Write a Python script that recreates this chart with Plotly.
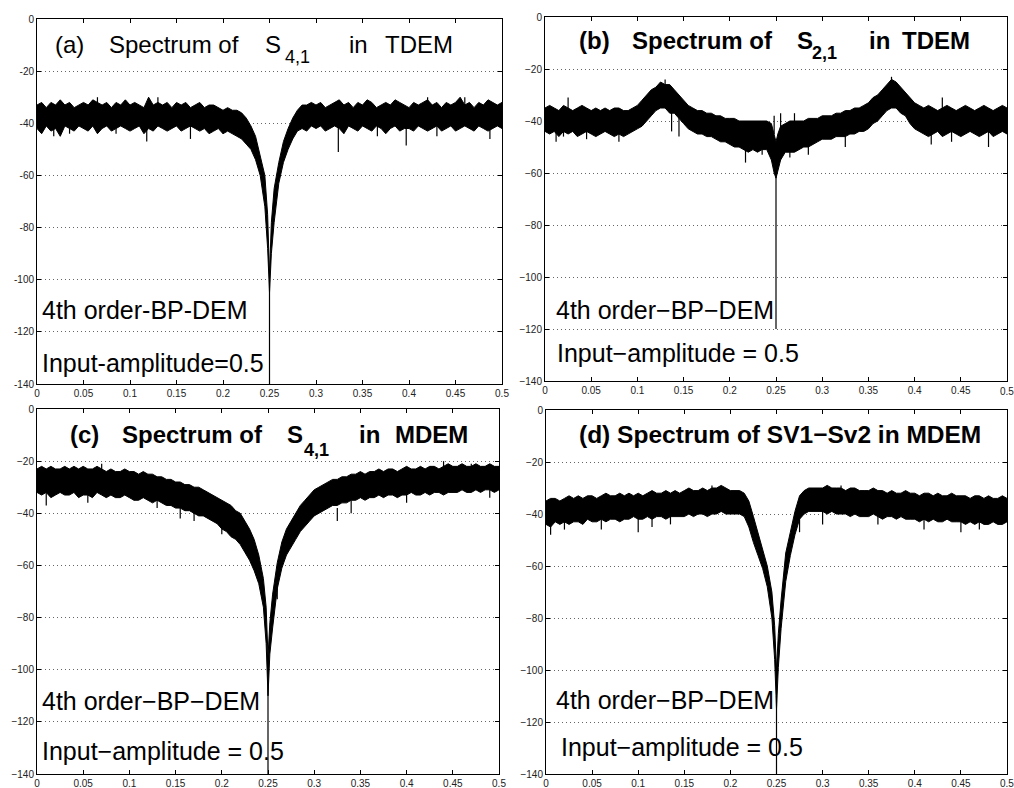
import plotly.graph_objects as go

# frequency grid shared by all four spectra (normalised frequency)
freq = [0.000, 0.005, 0.010, 0.015, 0.020, 0.025, 0.030, 0.035, 0.040, 0.045,
        0.050, 0.055, 0.060, 0.065, 0.070, 0.075, 0.080, 0.085, 0.090, 0.095,
        0.100, 0.105, 0.110, 0.115, 0.120, 0.125, 0.130, 0.135, 0.140, 0.145,
        0.150, 0.155, 0.160, 0.165, 0.170, 0.175, 0.180, 0.185, 0.190, 0.195,
        0.200,
        0.205, 0.210, 0.215, 0.220, 0.225, 0.230, 0.235, 0.240, 0.245, 0.248,
        0.250, 0.252, 0.255, 0.260, 0.265, 0.270, 0.275, 0.280, 0.285, 0.290,
        0.295,
        0.300, 0.305, 0.310, 0.315, 0.320, 0.325, 0.330, 0.335, 0.340, 0.345,
        0.350, 0.355, 0.360, 0.365, 0.370, 0.375, 0.380, 0.385, 0.390, 0.395,
        0.400, 0.405, 0.410, 0.415, 0.420, 0.425, 0.430, 0.435, 0.440, 0.445,
        0.450, 0.455, 0.460, 0.465, 0.470, 0.475, 0.480, 0.485, 0.490, 0.495,
        0.500]

# (a) S4,1 in TDEM : upper / lower edge of the noise band (dB)
up_a = [-33, -32, -34, -32, -33, -31, -33, -32, -34, -33,
        -32, -33, -31, -32, -33, -32, -34, -32, -33, -31,
        -33, -32, -33, -34, -30, -33, -32, -33, -32, -34,
        -32, -33, -32, -34, -33, -32, -34, -33, -33, -34,
        -35,
        -34, -35, -35, -36, -38, -41, -45, -52, -60, -75,
        -98, -78, -65, -55, -47, -42, -38, -35, -33, -33,
        -32,
        -33, -32, -34, -33, -32, -31, -33, -32, -34, -32,
        -33, -31, -32, -34, -33, -32, -33, -31, -32, -33,
        -34, -32, -33, -32, -31, -33, -32, -34, -32, -33,
        -32, -30, -33, -32, -34, -32, -33, -31, -32, -33,
        -32]
lo_a = [-42, -44, -41, -43, -42, -45, -41, -42, -43, -41,
        -42, -43, -41, -44, -42, -41, -43, -42, -41, -42,
        -43, -42, -41, -44, -42, -43, -41, -42, -43, -42,
        -41, -43, -42, -41, -42, -43, -42, -44, -43, -42,
        -44,
        -43, -44, -45, -46, -48, -50, -54, -60, -72, -88,
        -105, -90, -78, -63, -55, -50, -46, -43, -42, -43,
        -41,
        -42, -41, -43, -42, -41, -42, -44, -41, -42, -43,
        -41, -42, -43, -41, -42, -44, -42, -41, -43, -42,
        -42, -43, -41, -42, -43, -42, -41, -43, -42, -41,
        -43, -42, -41, -42, -43, -41, -42, -43, -42, -41,
        -42]

# (b) S2,1 in TDEM
up_b = [-35, -34, -35, -36, -34, -35, -36, -35, -34, -35,
        -36, -35, -36, -35, -36, -35, -35, -36, -36, -35,
        -34, -32, -30, -28, -27, -25, -26, -26, -28, -30,
        -32, -34, -35, -36, -36, -37, -37, -38, -38, -39,
        -39,
        -39, -40, -40, -40, -40, -40, -40, -40, -41, -45,
        -48, -45, -42, -41, -40, -40, -40, -40, -39, -39,
        -39,
        -38, -38, -38, -37, -37, -36, -36, -35, -35, -34,
        -33, -31, -30, -28, -26, -24, -25, -27, -29, -31,
        -33, -34, -35, -34, -35, -36, -35, -34, -35, -36,
        -35, -34, -35, -36, -35, -34, -35, -36, -35, -34,
        -35]
lo_b = [-44, -45, -44, -46, -44, -45, -44, -46, -45, -44,
        -45, -46, -45, -44, -45, -46, -45, -46, -45, -44,
        -43, -42, -40, -38, -36, -35, -35, -37, -37, -39,
        -41, -43, -44, -45, -45, -46, -46, -47, -48, -48,
        -49,
        -50, -50, -51, -52, -51, -52, -51, -51, -55, -60,
        -62, -60, -55, -52, -52, -52, -51, -50, -50, -49,
        -48,
        -47, -47, -47, -46, -46, -46, -45, -45, -44, -44,
        -43, -41, -40, -38, -36, -35, -35, -37, -38, -41,
        -43, -44, -45, -46, -45, -44, -46, -45, -44, -45,
        -46, -45, -44, -45, -46, -45, -44, -46, -45, -44,
        -45]

# (c) S4,1 in MDEM
up_c = [-23, -22, -23, -22, -23, -23, -22, -23, -22, -23,
        -22, -23, -23, -22, -23, -24, -23, -24, -24, -23,
        -24, -24, -25, -24, -25, -25, -26, -26, -27, -27,
        -28, -28, -29, -29, -30, -30, -31, -32, -33, -34,
        -35,
        -36, -37, -39, -40, -43, -46, -50, -56, -65, -76,
        -95, -82, -71, -59, -51, -46, -43, -40, -37, -35,
        -33,
        -31, -30, -29, -28, -27, -27, -26, -26, -25, -25,
        -24, -25, -24, -24, -23, -24, -23, -23, -24, -23,
        -22, -23, -23, -22, -23, -22, -22, -23, -22, -21,
        -22, -22, -21, -22, -22, -21, -22, -22, -21, -22,
        -22]
lo_c = [-32, -33, -32, -34, -33, -32, -33, -33, -32, -34,
        -33, -33, -34, -32, -33, -34, -33, -34, -34, -33,
        -34, -35, -35, -34, -35, -36, -35, -36, -37, -37,
        -38, -38, -39, -39, -40, -41, -41, -42, -43, -44,
        -46,
        -47, -49, -50, -52, -55, -58, -62, -67, -76, -90,
        -110, -94, -84, -69, -61, -56, -53, -50, -47, -45,
        -43,
        -41, -40, -39, -38, -37, -37, -36, -36, -35, -35,
        -34, -35, -34, -34, -33, -34, -33, -33, -34, -33,
        -33, -32, -33, -33, -32, -33, -32, -32, -33, -32,
        -32, -32, -31, -32, -32, -31, -32, -31, -31, -32,
        -31]

# (d) SV1-Sv2 in MDEM
up_d = [-35, -34, -34, -35, -34, -33, -34, -33, -34, -33,
        -33, -34, -33, -32, -33, -33, -32, -33, -32, -33,
        -32, -33, -32, -31, -32, -32, -31, -32, -31, -32,
        -31, -30, -31, -31, -30, -31, -30, -30, -29, -30,
        -31,
        -31, -31, -32, -35, -41, -47, -53, -60, -70, -83,
        -100, -86, -73, -55, -47, -39, -33, -31, -30, -30,
        -30,
        -30, -29, -30, -30, -30, -31, -30, -30, -31, -31,
        -31, -30, -31, -31, -32, -31, -32, -32, -31, -32,
        -32, -33, -32, -32, -33, -32, -33, -33, -32, -33,
        -33, -33, -34, -33, -33, -34, -33, -34, -34, -33,
        -34]
lo_d = [-44, -45, -43, -44, -43, -44, -43, -43, -44, -42,
        -43, -43, -42, -43, -42, -42, -43, -42, -42, -41,
        -42, -42, -41, -42, -41, -41, -42, -41, -41, -41,
        -41, -40, -41, -40, -40, -41, -40, -40, -39, -40,
        -40,
        -40, -40, -41, -45, -51, -56, -61, -68, -80, -96,
        -115, -99, -84, -66, -56, -48, -42, -40, -39, -39,
        -39,
        -39, -40, -39, -40, -40, -40, -41, -40, -41, -41,
        -41, -40, -41, -42, -41, -41, -42, -41, -42, -42,
        -42, -43, -42, -43, -42, -43, -43, -42, -43, -43,
        -43, -44, -43, -44, -43, -44, -44, -43, -44, -44,
        -43]

# isolated spikes (frequency, top dB, bottom dB); the last one is the notch
spk_f_a = [0.018, 0.035, 0.065, 0.085, 0.118, 0.13, 0.165, 0.2, 0.324, 0.366, 0.397, 0.42, 0.43, 0.46, 0.487, 0.25]
spk_hi_a = [-40, -40, -30, -40, -40, -30, -40, -41, -40, -40, -40, -30, -40, -30, -40, -100]
spk_lo_a = [-45, -44, -36, -44, -47, -36, -46, -44, -51, -45, -48.5, -36, -45, -36, -46, -140]

spk_f_b = [0.012, 0.02, 0.025, 0.045, 0.08, 0.13, 0.137, 0.145, 0.217, 0.235, 0.248, 0.255,
           0.265, 0.27, 0.285, 0.325, 0.375, 0.418, 0.43, 0.44, 0.48, 0.25]
spk_hi_b = [-42, -42, -31, -42, -42, -24, -36, -38, -48, -48, -38, -37,
            -48, -37, -47, -44, -23, -42, -31, -42, -42, -48]
spk_lo_b = [-48, -46, -38, -47, -48, -30, -44, -46, -56, -53, -45, -45,
            -54, -45, -53, -50, -30, -49, -38, -48, -50, -120]

spk_f_c = [0.01, 0.055, 0.07, 0.105, 0.13, 0.155, 0.17, 0.2, 0.26, 0.325, 0.34, 0.4, 0.44, 0.47, 0.49, 0.25]
spk_hi_c = [-30, -30, -21, -32, -33, -36, -37, -43, -64, -38, -35, -30, -20, -21, -30, -100]
spk_lo_c = [-37, -36, -27, -35, -38, -42, -43, -48, -73, -43, -40, -36, -27, -27, -34, -140]

spk_f_d = [0.005, 0.02, 0.06, 0.1, 0.115, 0.135, 0.18, 0.275, 0.3, 0.305, 0.32, 0.36, 0.41, 0.45, 0.47, 0.25]
spk_hi_d = [-42, -42, -41, -41, -40, -40, -29, -42, -38, -29, -29, -40, -41, -42, -42, -110]
spk_lo_d = [-48, -46, -46, -47, -45, -44, -35, -47, -44, -35, -35, -44, -46, -47, -46, -140]

x_ticks = [0, 0.05, 0.1, 0.15, 0.2, 0.25, 0.3, 0.35, 0.4, 0.45, 0.5]
x_labels = ["0", "0.05", "0.1", "0.15", "0.2", "0.25", "0.3", "0.35", "0.4", "0.45", "0.5"]
y_ticks = [0, -20, -40, -60, -80, -100, -120, -140]

W, H = 1014, 788
FONT = "Arial, Liberation Sans, Helvetica, sans-serif"

# plot boxes in pixels: left, right, top, bottom
boxes = [(37, 502, 19, 384), (545, 1007, 17, 381),
         (37, 499, 409, 774), (546, 1007, 410, 774)]

panels = [
    (up_a, lo_a, spk_f_a, spk_hi_a, spk_lo_a, "-"),
    (up_b, lo_b, spk_f_b, spk_hi_b, spk_lo_b, "\u2212"),
    (up_c, lo_c, spk_f_c, spk_hi_c, spk_lo_c, "\u2212"),
    (up_d, lo_d, spk_f_d, spk_hi_d, spk_lo_d, "\u2212"),
]

fig = go.Figure()

for i, (up, lo, sf, shi, slo, minus) in enumerate(panels):
    n = "" if i == 0 else str(i + 1)
    xa, ya = "x" + n, "y" + n

    # noise band: upper edge left->right, lower edge back
    fig.add_trace(go.Scatter(
        x=freq + freq[::-1], y=up + lo[::-1], xaxis=xa, yaxis=ya, mode="lines",
        fill="toself", fillcolor="black",
        line=dict(color="black", width=1), showlegend=False, hoverinfo="skip"
    ))

    seg_x, seg_y = [], []
    for f, hi, lw in zip(sf, shi, slo):
        seg_x += [f, f, None]
        seg_y += [hi, lw, None]
    fig.add_trace(go.Scatter(
        x=seg_x, y=seg_y, xaxis=xa, yaxis=ya, mode="lines",
        line=dict(color="black", width=1.2), showlegend=False, hoverinfo="skip"
    ))

    l, r, t, b = boxes[i]
    y_labels = [str(v).replace("-", minus) for v in y_ticks]
    axis_common = dict(
        showline=True, linecolor="black", linewidth=1, mirror="allticks",
        ticks="inside", ticklen=4, tickcolor="black",
        tickfont=dict(family=FONT, size=10, color="#222"), zeroline=False,
    )
    fig.layout["xaxis" + n] = dict(
        domain=[l / W, r / W], anchor=ya, range=[0, 0.5],
        tickvals=x_ticks, ticktext=x_labels, showgrid=False, **axis_common
    )
    fig.layout["yaxis" + n] = dict(
        domain=[1 - b / H, 1 - t / H], anchor=xa, range=[-140, 0],
        tickvals=y_ticks, ticktext=y_labels, showgrid=True,
        gridcolor="#666", griddash="1px,3px", gridwidth=1, **axis_common
    )


def note(text, x, y, size, bold=False, anchor="left", color="black"):
    # x = left edge, y = vertical centre of capitals, both in pixels
    if bold:
        text = "<b>" + text + "</b>"
    fig.add_annotation(
        text=text, x=x / W, y=1 - y / H, xref="paper", yref="paper",
        xanchor=anchor, yanchor="middle", showarrow=False,
        font=dict(family=FONT, size=size, color=color)
    )


# panel titles, pieces placed where they sit in the original
note("(a)", 53, 45, 24)
note("Spectrum of", 107, 45, 24)
note("S", 263, 45, 24)
note("4,1", 283, 57, 18)
note("in", 347, 45, 24)
note("TDEM", 383, 45, 24)

note("(b)", 577, 40, 24, True)
note("Spectrum of", 630, 40, 24, True)
note("S", 795, 40, 24, True)
note("2,1", 810, 53, 18, True)
note("in", 867, 40, 24, True)
note("TDEM", 900, 40, 24, True)

note("(c)", 68, 435, 24, True)
note("Spectrum of", 120, 435, 24, True)
note("S", 285, 435, 24, True)
note("4,1", 302, 450, 18, True)
note("in", 357, 435, 24, True)
note("MDEM", 393, 435, 24, True)

note("(d) Spectrum of SV1\u2212Sv2 in MDEM", 577, 434, 24.5, True)

note("4th order-BP-DEM", 40, 310, 25)
note("Input-amplitude=0.5", 40, 363, 25)
note("4th order\u2212BP\u2212DEM", 554, 310, 25)
note("Input\u2212amplitude = 0.5", 555, 353, 25)
note("4th order\u2212BP\u2212DEM", 40, 701, 25)
note("Input\u2212amplitude = 0.5", 40, 751, 25)
note("4th order\u2212BP\u2212DEM", 554, 700, 25)
note("Input\u2212amplitude = 0.5", 559, 747, 25)

# plotly drops the last x tick label of the right-hand panels at the page edge
note(x_labels[-1], 1007, 391, 10, anchor="center", color="#222")
note(x_labels[-1], 1007, 783, 10, anchor="center", color="#222")

fig.update_layout(
    width=W, height=H, margin=dict(l=0, r=0, t=0, b=0, autoexpand=False),
    paper_bgcolor="white", plot_bgcolor="white", showlegend=False,
)

# the page's default body margin would push the figure off the window
fig.write_html(
    "out.html", config={"displayModeBar": False},
    post_script="document.body.style.margin='0';document.body.style.overflow='hidden';"
)
